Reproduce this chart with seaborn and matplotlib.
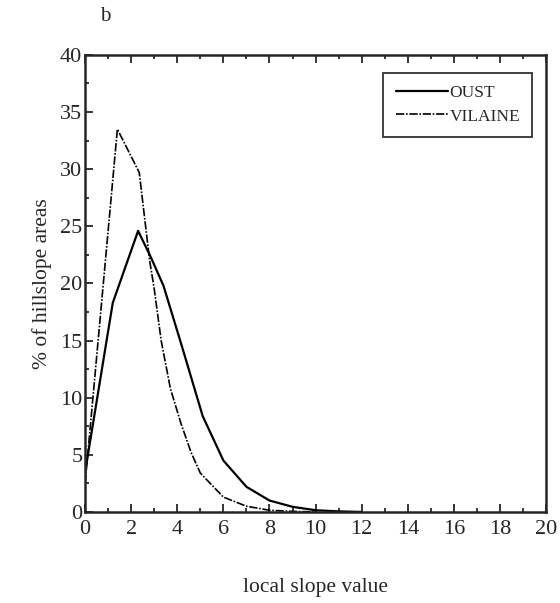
import numpy as np
import pandas as pd
import seaborn as sns
import matplotlib
matplotlib.use("Agg")
from matplotlib import pyplot as plt
from matplotlib.ticker import MultipleLocator

# values
oust_x = [0, 1.2, 2.3, 2.85, 3.4, 4.2, 5.1, 6.0, 7.0, 8.0, 9.0, 10.0, 11.0, 12.0]
oust_y = [3.5, 18.3, 24.6, 22.3, 19.8, 14.5, 8.4, 4.5, 2.2, 1.0, 0.45, 0.15, 0.05, 0.0]

vilaine_x = [0, 1.4, 2.35, 2.8, 3.0, 3.3, 3.7, 4.15, 4.6, 5.0, 6.0, 7.0, 8.0, 9.0, 10.0]
vilaine_y = [2.5, 33.5, 29.7, 22.0, 19.5, 15.0, 10.8, 7.8, 5.2, 3.4, 1.3, 0.5, 0.15, 0.05, 0.0]

df = pd.concat([
    pd.DataFrame({'slope': oust_x, 'pct': oust_y, 'basin': 'OUST'}),
    pd.DataFrame({'slope': vilaine_x, 'pct': vilaine_y, 'basin': 'VILAINE'}),
])

sns.set_style('ticks')
plt.rcParams['font.family'] = ['Liberation Serif', 'DejaVu Serif']

fig = plt.figure(figsize=(5.6, 6.03), dpi=100)
ax = fig.add_axes([0.152, 0.151, 0.823, 0.758])

sns.lineplot(data=df[df.basin == 'OUST'], x='slope', y='pct', color='black',
             linewidth=1.6, label='OUST', ax=ax, sort=False)
sns.lineplot(data=df[df.basin == 'VILAINE'], x='slope', y='pct', color='black',
             linewidth=1.2, linestyle=(0, (5, 1, 1, 1)), label='VILAINE', ax=ax, sort=False)

ax.set_xlim(0, 20)
ax.set_ylim(0, 40)
ax.xaxis.set_major_locator(MultipleLocator(2))
ax.xaxis.set_minor_locator(MultipleLocator(1))
ax.yaxis.set_major_locator(MultipleLocator(5))
ax.yaxis.set_minor_locator(MultipleLocator(2.5))
ax.tick_params(which='both', direction='in', top=True, right=False, width=1.3)
ax.tick_params(which='major', length=6, labelsize=16)
ax.tick_params(which='minor', length=3)
ax.tick_params(axis='x', pad=6)
ax.tick_params(axis='y', pad=2)
for s in ax.spines.values():
    s.set_linewidth(1.8)

ax.set_xlabel('local slope value', fontsize=15.5, labelpad=28)
ax.set_ylabel('% of hillslope areas', fontsize=15.5, labelpad=6)

leg = ax.legend(loc='upper right', bbox_to_anchor=(0.97, 0.96), borderaxespad=0,
                fontsize=12.5, frameon=True, fancybox=False, edgecolor='black',
                handlelength=3, handletextpad=0.1, borderpad=0.7, labelspacing=0.4)
leg.get_frame().set_linewidth(1.3)

fig.text(0.178, 0.972, 'b', fontsize=15, ha='left', va='center')

fig.savefig('out.png', dpi=100)
